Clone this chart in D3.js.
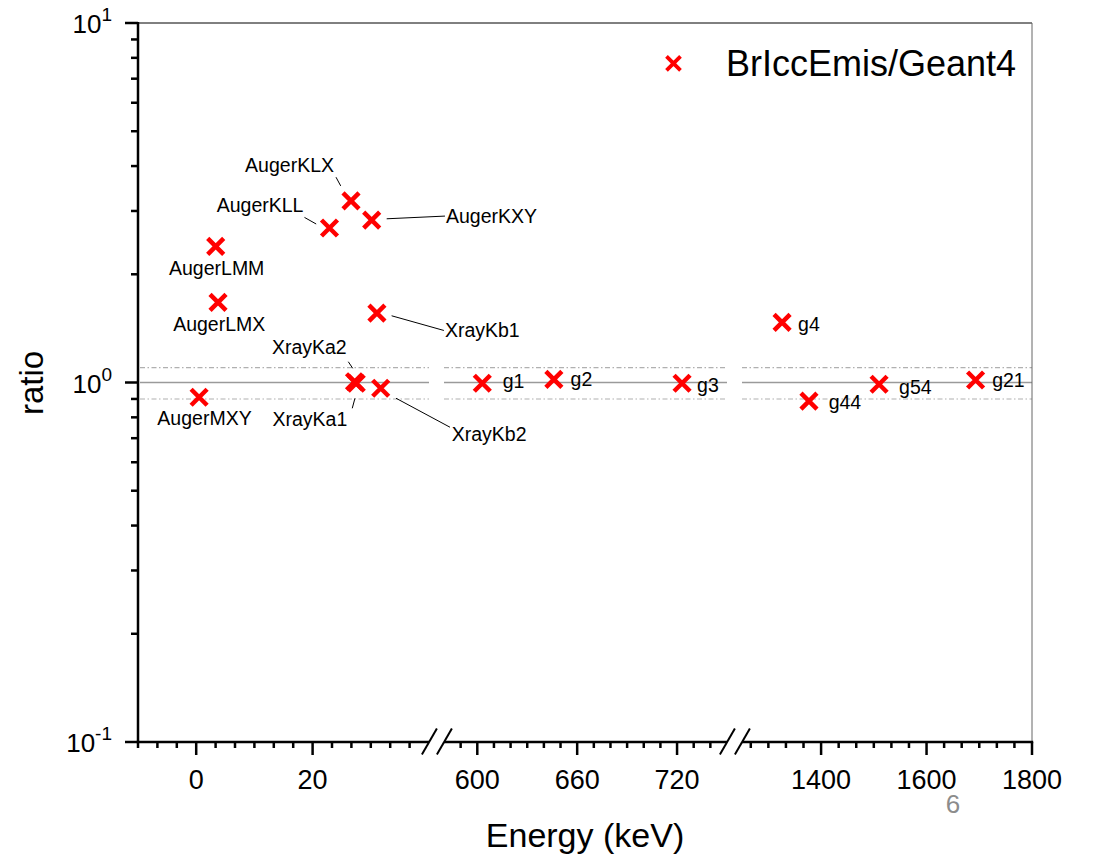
<!DOCTYPE html>
<html>
<head>
<meta charset="utf-8">
<script src="https://cdn.jsdelivr.net/npm/d3@7"></script>
<style>
  html, body { margin: 0; padding: 0; background: #fff; }
  svg { display: block; font-family: Arial, "Liberation Sans", Helvetica, sans-serif; }
</style>
</head>
<body>
<svg id="chart" width="1094" height="856"></svg>
<script>
// ---- data ----
const names = ["AugerMXY", "AugerLMM", "AugerLMX", "AugerKLL", "AugerKLX", "AugerKXY",
  "XrayKb1", "XrayKa2", "XrayKa1", "XrayKb2",
  "g1", "g2", "g3", "g4", "g44", "g54", "g21"];
const energies = [0.5, 3.35, 3.75, 22.9, 26.6, 30.15,
  31.05, 27.2, 27.5, 31.7,
  603, 646, 723, 1326, 1377, 1510, 1693];
const ratios = [0.91, 2.39, 1.67, 2.69, 3.20, 2.83,
  1.56, 1.005, 0.995, 0.964,
  0.995, 1.02, 0.995, 1.47, 0.888, 0.989, 1.016];

// broken energy axis: value ranges of each piece, major step and tick labels
const segDomains = [[-10, 40], [580, 750], [1250, 1800]];
const segMajor = [20, 60, 200];
const xTickLabels = [[0, 20], [600, 660, 720], [1400, 1600, 1800]];
const yTickValues = [0.1, 1, 10];
const yTickExp = ["-1", "0", "1"];
const refLevels = [0.9, 1, 1.1];
const legendLabel = "BrIccEmis/Geant4";

// ---- layout ----
const svg = d3.select("#chart");
const plotTop = 23, plotBottom = 742;
const segRanges = [[138, 429], [444, 727], [742, 1032]];
const plotLeft = segRanges[0][0], plotRight = segRanges[2][1];

const xScales = segDomains.map((d, i) => d3.scaleLinear().domain(d).range(segRanges[i]));
function x(v) {
  for (const s of xScales) {
    const d = s.domain();
    if (v >= d[0] && v <= d[1]) return s(v);
  }
  return NaN;
}
const y = d3.scaleLog().domain([0.1, 10]).range([plotBottom, plotTop]);

// label placement relative to each marker: [dx, dy(baseline), anchor, leader]
const labelPlacement = [
  [5.4, 27.7, "middle"],
  [1, 28.3, "middle"],
  [1.2, 29, "middle"],
  [-26, -15.6, "end", [-25, -10.6, -13.3, -4]],
  [-17, -29, "end", [-15, -23.7, -10.3, -15]],
  [74.3, 2.7, "start", [15, -1.3, 73.3, -4]],
  [68, 23.7, "start", [14.7, 2.7, 67, 17.4]],
  [-7.8, -27.4, "end", [-6.2, -20, -1.8, -13.4]],
  [-9, 42.7, "end", [-1.3, 15, -4, 25]],
  [71, 53, "start", [15.3, 10, 69.3, 39]],
  [20.4, 4.4, "start"],
  [16.7, 6.4, "start"],
  [15, 8.4, "start"],
  [16, 8.7, "start"],
  [19.7, 8.3, "start"],
  [20, 10, "start"],
  [16.6, 6.7, "start"]
];

// ---- reference bands (ratio 1 and +/-10%) ----
const refG = svg.append("g");
segRanges.forEach((r, i) => {
  refLevels.forEach(lv => {
    refG.append("line")
      .attr("x1", r[0] + (i === 0 ? 2 : 0)).attr("x2", r[1])
      .attr("y1", y(lv)).attr("y2", y(lv))
      .attr("stroke", lv === 1 ? "#9a9a9a" : "#b0b0b0")
      .attr("stroke-width", lv === 1 ? 1.3 : 1.1)
      .attr("stroke-dasharray", lv === 1 ? null : "5,2.5,1.5,2.5");
  });
});

// ---- frame ----
svg.append("line").attr("x1", plotLeft).attr("x2", plotRight).attr("y1", plotTop).attr("y2", plotTop)
  .attr("stroke", "#000").attr("stroke-width", 1);
svg.append("line").attr("x1", plotRight).attr("x2", plotRight).attr("y1", plotTop).attr("y2", plotBottom)
  .attr("stroke", "#666").attr("stroke-width", 1);

// ---- y axis ----
const yAxisG = svg.append("g");
yAxisG.append("line").attr("x1", plotLeft).attr("x2", plotLeft).attr("y1", plotTop - 1).attr("y2", plotBottom)
  .attr("stroke", "#000").attr("stroke-width", 2.5);
const yMinor = [];
[0.1, 1].forEach(dec => { for (let k = 2; k <= 9; k++) yMinor.push(dec * k); });
yAxisG.selectAll("line.ymin").data(yMinor).join("line")
  .attr("x1", plotLeft - 7).attr("x2", plotLeft).attr("y1", d => y(d)).attr("y2", d => y(d))
  .attr("stroke", "#000").attr("stroke-width", 2.5);
yAxisG.selectAll("line.ymaj").data(yTickValues).join("line")
  .attr("x1", plotLeft - 13).attr("x2", plotLeft).attr("y1", d => y(d)).attr("y2", d => y(d))
  .attr("stroke", "#000").attr("stroke-width", 2.5);
const yLab = yAxisG.selectAll("text.ylab").data(yTickValues).join("text")
  .attr("x", 112).attr("y", d => y(d) + 10)
  .attr("text-anchor", "end").attr("font-size", 26).attr("fill", "#000");
yLab.append("tspan").text("10");
yLab.append("tspan").attr("dy", -12).attr("font-size", 19).text((d, i) => yTickExp[i]);

// ---- x axis (three pieces) ----
const xAxisG = svg.append("g");
xScales.forEach((s, i) => {
  const r = s.range(), d = s.domain();
  xAxisG.append("line").attr("x1", r[0] - (i === 0 ? 1.2 : 0)).attr("x2", r[1] + (i === 2 ? 1.2 : 0))
    .attr("y1", plotBottom).attr("y2", plotBottom)
    .attr("stroke", "#000").attr("stroke-width", 2.5);
  const step = segMajor[i] / 6;
  const kMin = Math.ceil(d[0] / step - 1e-9), kMax = Math.floor(d[1] / step + 1e-9);
  const ticks = [];
  for (let k = kMin; k <= kMax; k++) {
    const v = segMajor[i] * k / 6;
    const atBreak = (i > 0 && Math.abs(v - d[0]) < 1e-6) || (i < 2 && Math.abs(v - d[1]) < 1e-6);
    if (!atBreak) ticks.push({ v, major: k % 6 === 0 });
  }
  xAxisG.selectAll(null).data(ticks).join("line")
    .attr("x1", t => s(t.v)).attr("x2", t => s(t.v))
    .attr("y1", plotBottom).attr("y2", t => plotBottom + (t.major ? 13 : 6))
    .attr("stroke", "#000").attr("stroke-width", 2.5);
  xAxisG.selectAll(null).data(xTickLabels[i]).join("text")
    .attr("x", v => s(v)).attr("y", 789)
    .attr("text-anchor", "middle").attr("font-size", 27).attr("fill", "#000")
    .text(v => v);
});
// break marks
[[segRanges[0][1], segRanges[1][0]], [segRanges[1][1], segRanges[2][0]]].forEach(pair => {
  pair.forEach(px => {
    xAxisG.append("line")
      .attr("x1", px - 7.1).attr("y1", plotBottom + 12.5)
      .attr("x2", px + 7.9).attr("y2", plotBottom - 13.5)
      .attr("stroke", "#000").attr("stroke-width", 2);
  });
});

// ---- axis titles ----
svg.append("text").attr("x", 585).attr("y", 846.5).attr("text-anchor", "middle")
  .attr("font-size", 34).attr("fill", "#000").text("Energy (keV)");
svg.append("text").attr("transform", "translate(42.5,383) rotate(-90)")
  .attr("text-anchor", "middle").attr("font-size", 33).attr("fill", "#000").text("ratio");

// ---- points, labels, leaders ----
const pts = names.map((n, i) => ({ name: n, e: energies[i], r: ratios[i], p: labelPlacement[i] }));
const markerPath = h => `M${-h},${-h}L${h},${h}M${-h},${h}L${h},${-h}`;

const labG = svg.append("g");
labG.selectAll("line.leader").data(pts.filter(d => d.p[3])).join("line")
  .attr("x1", d => x(d.e) + d.p[3][0]).attr("y1", d => y(d.r) + d.p[3][1])
  .attr("x2", d => x(d.e) + d.p[3][2]).attr("y2", d => y(d.r) + d.p[3][3])
  .attr("stroke", "#000").attr("stroke-width", 1);
labG.selectAll("text").data(pts).join("text")
  .attr("x", d => x(d.e) + d.p[0]).attr("y", d => y(d.r) + d.p[1])
  .attr("text-anchor", d => d.p[2]).attr("font-size", 19.5).attr("fill", "#000")
  .text(d => d.name);

svg.append("g").selectAll("path").data(pts).join("path")
  .attr("transform", d => `translate(${x(d.e)},${y(d.r)})`)
  .attr("d", markerPath(8))
  .attr("fill", "none").attr("stroke", "#ff0000").attr("stroke-width", 4.5);

// ---- legend ----
const leg = svg.append("g");
leg.append("path").attr("transform", "translate(673.5,63.3)").attr("d", markerPath(7))
  .attr("fill", "none").attr("stroke", "#ff0000").attr("stroke-width", 3.8);
leg.append("text").attr("x", 726).attr("y", 75.7).attr("font-size", 36).attr("fill", "#000")
  .text(legendLabel);

// ---- page number ----
svg.append("text").attr("x", 953).attr("y", 813).attr("text-anchor", "middle")
  .attr("font-size", 26).attr("fill", "#8c8c8c").text("6");
</script>
</body>
</html>
